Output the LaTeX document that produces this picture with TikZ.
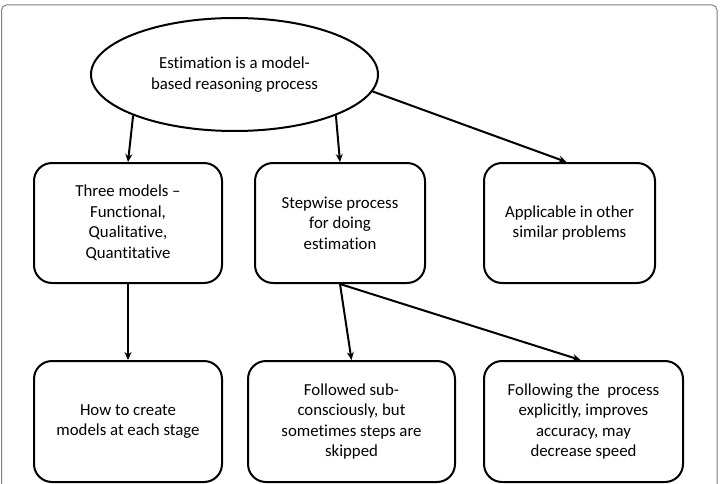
\documentclass[tikz,border=0pt]{standalone}
\usepackage{fontspec}
\setmainfont[Ligatures=NoCommon]{Carlito}
\usetikzlibrary{shapes.geometric,arrows.meta}
\begin{document}
\begin{tikzpicture}[x=1pt,y=-1pt,
  txt/.style={font=\fontsize{16.8}{20.5}\selectfont},
  box/.style={draw,line width=2pt,rounded corners=18pt,align=center,inner sep=0pt,txt},
  conn/.style={line width=2pt,-{Stealth[length=8pt,width=7pt]}}]
\useasboundingbox (0,0) rectangle (722,484);
\draw[gray,line width=1pt,rounded corners=5pt] (1.5,5) -- (717,5) -- (717,500) -- (1.5,500) -- cycle;
\node[ellipse,draw,line width=2pt,minimum width=287pt,minimum height=113pt,inner sep=0pt,align=center,txt]
  (e) at (234.5,74.5) {Estimation is a model-\\based reasoning process};
\node[box,minimum width=188pt,minimum height=120pt] (b1) at (128,223) {Three models –\\Functional,\\Qualitative,\\Quantitative};
\node[box,minimum width=170pt,minimum height=120pt] (b2) at (340,223) {Stepwise process\\for doing\\estimation};
\node[box,minimum width=171pt,minimum height=120pt] (b3) at (569.5,223) {Applicable in other\\similar problems};
\node[box,minimum width=188pt,minimum height=121pt] (b4) at (128,421.5) {How to create\\models at each stage};
\node[box,minimum width=207pt,minimum height=121pt] (b5) at (351.5,421.5) {Followed sub-\\consciously, but\\sometimes steps are\\skipped};
\node[box,minimum width=199pt,minimum height=121pt] (b6) at (583.5,421.5) {Following the \ process\\explicitly, improves\\accuracy, may\\decrease speed};
\draw[conn] (e.202) -- (b1.north);
\draw[conn] (e.-22) -- (b2.north);
\draw[conn] (e.-7) -- ([xshift=-3pt]b3.north);
\draw[conn] (b1.south) -- (b4.north);
\draw[conn] (b2.south) -- (b5.north);
\draw[conn] (b2.south) -- ([xshift=-3pt]b6.north);
\end{tikzpicture}
\end{document}
